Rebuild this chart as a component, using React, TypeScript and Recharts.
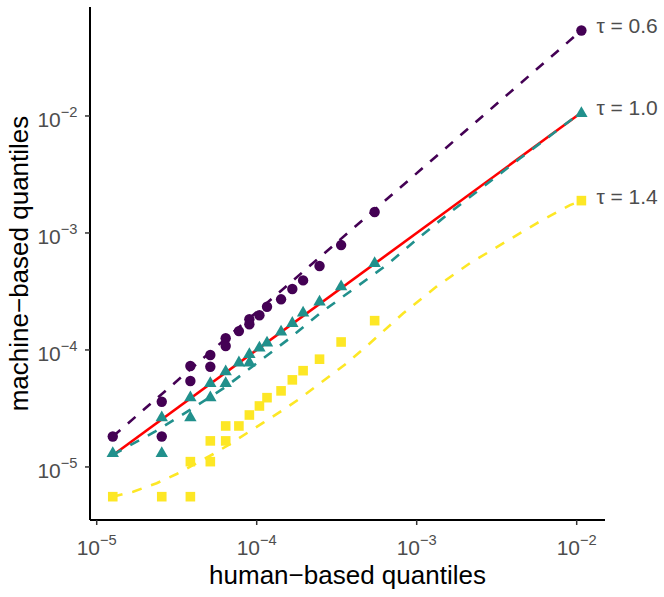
import { Label, Scatter, ScatterChart, XAxis, YAxis } from "recharts";

const FONT = "'Liberation Sans', Arial, Helvetica, sans-serif";
const PURPLE = "#440154";
const TEAL = "#21908C";
const YELLOW = "#FDE725";
const TEXT_GREY = "#4D4D4D";

// axis ticks (powers of ten)
const xTicks = [1e-5, 1e-4, 1e-3, 1e-2];
const yTicks = [1e-5, 1e-4, 1e-3, 1e-2];

// tau = 0.6 (circles)
const tau06X = [
  1.26e-5, 2.55e-5, 2.55e-5, 3.85e-5, 3.85e-5, 5.13e-5, 5.13e-5, 6.4e-5, 6.4e-5, 7.74e-5, 9.0e-5,
  9.0e-5, 1.04e-4, 1.16e-4, 1.42e-4, 1.67e-4, 1.95e-4, 2.47e-4, 3.37e-4, 5.46e-4, 1.07e-2,
];
const tau06Y = [
  1.82e-5, 3.61e-5, 1.82e-5, 7.29e-5, 5.43e-5, 9.05e-5, 7.19e-5, 1.26e-4, 1.08e-4, 1.45e-4, 1.83e-4,
  1.66e-4, 1.98e-4, 2.34e-4, 2.71e-4, 3.32e-4, 3.93e-4, 5.22e-4, 7.88e-4, 1.51e-3, 5.38e-2,
];

// tau = 1.0 (triangles)
const tau10X = [
  1.26e-5, 2.55e-5, 2.55e-5, 3.85e-5, 3.85e-5, 5.13e-5, 5.13e-5, 6.4e-5, 6.4e-5, 7.74e-5, 9.0e-5,
  9.0e-5, 1.04e-4, 1.16e-4, 1.42e-4, 1.67e-4, 1.95e-4, 2.47e-4, 3.37e-4, 5.46e-4, 1.07e-2,
];
const tau10Y = [
  1.35e-5, 2.73e-5, 1.35e-5, 4.05e-5, 2.73e-5, 5.36e-5, 4.05e-5, 6.75e-5, 5.36e-5, 8.05e-5, 9.48e-5,
  8.05e-5, 1.08e-4, 1.19e-4, 1.48e-4, 1.75e-4, 2.15e-4, 2.67e-4, 3.6e-4, 5.7e-4, 1.09e-2,
];

// tau = 1.4 (squares)
const tau14X = [
  1.26e-5, 2.55e-5, 3.85e-5, 3.85e-5, 5.13e-5, 5.13e-5, 6.4e-5, 6.4e-5, 7.74e-5, 9.0e-5, 1.04e-4,
  1.16e-4, 1.42e-4, 1.67e-4, 1.95e-4, 2.47e-4, 3.37e-4, 5.46e-4, 1.07e-2,
];
const tau14Y = [
  5.57e-6, 5.57e-6, 5.57e-6, 1.11e-5, 1.11e-5, 1.67e-5, 1.67e-5, 2.24e-5, 2.24e-5, 2.78e-5, 3.32e-5,
  3.91e-5, 4.47e-5, 5.55e-5, 6.65e-5, 8.34e-5, 1.17e-4, 1.78e-4, 1.89e-3,
];

// dashed model curves
const fit06X = [1.26e-5, 5.46e-4, 1.07e-2];
const fit06Y = [1.82e-5, 1.58e-3, 5.38e-2];

const fit10X = [
  1.26e-5, 2.31e-5, 3.83e-5, 6.34e-5, 1.0e-4, 1.61e-4, 2.49e-4, 6.49e-4, 1.05e-3, 1.69e-3, 2.74e-3,
  4.43e-3, 7.15e-3, 1.07e-2,
];
const fit10Y = [
  1.27e-5, 2.0e-5, 3.07e-5, 4.8e-5, 7.69e-5, 1.26e-4, 2.06e-4, 5.32e-4, 9.3e-4, 1.57e-3, 2.62e-3,
  4.35e-3, 7.11e-3, 1.08e-2,
];

const fit14X = [
  1.26e-5, 1.69e-5, 2.37e-5, 3.16e-5, 4.02e-5, 5.36e-5, 6.81e-5, 8.66e-5, 1.1e-4, 1.43e-4, 1.87e-4,
  2.49e-4, 3.65e-4, 5.1e-4, 8.24e-4, 1.33e-3, 2.15e-3, 3.48e-3, 5.62e-3, 9.08e-3, 1.07e-2,
];
const fit14Y = [
  5.57e-6, 6.15e-6, 7.26e-6, 8.71e-6, 1.04e-5, 1.29e-5, 1.57e-5, 1.94e-5, 2.39e-5, 3.01e-5, 3.86e-5,
  5.19e-5, 7.69e-5, 1.14e-4, 2.06e-4, 3.48e-4, 5.51e-4, 8.17e-4, 1.21e-3, 1.73e-3, 1.89e-3,
];

// identity reference line
const identityX = [1.26e-5, 1.04e-2];
const identityY = [1.26e-5, 1.04e-2];

const tauLabels = ["τ = 0.6", "τ = 1.0", "τ = 1.4"];

const toPoints = (xs: number[], ys: number[]) => xs.map((x, i) => ({ x, y: ys[i] }));

const labelPoints = [
  { x: tau06X[tau06X.length - 1], y: tau06Y[tau06Y.length - 1], text: tauLabels[0] },
  { x: tau10X[tau10X.length - 1], y: tau10Y[tau10Y.length - 1], text: tauLabels[1] },
  { x: tau14X[tau14X.length - 1], y: tau14Y[tau14Y.length - 1], text: tauLabels[2] },
];

const expOf = (v: number) => Math.round(Math.log10(v));

function XTick(props: any) {
  const { x, y, payload } = props;
  const e = expOf(payload.value);
  return (
    <text x={x} y={y + 30} textAnchor="middle" fill={TEXT_GREY} fontSize={21} fontFamily={FONT}>
      10
      <tspan dy={-10} fontSize={14.7}>{`\u2212${-e}`}</tspan>
    </text>
  );
}

function YTick(props: any) {
  const { x, y, payload } = props;
  const e = expOf(payload.value);
  return (
    <text x={x - 7.5} y={y + 11} textAnchor="end" fill={TEXT_GREY} fontSize={21} fontFamily={FONT}>
      10
      <tspan dy={-9.5} fontSize={14.7}>{`\u2212${-e}`}</tspan>
    </text>
  );
}

const Circle = (p: any) => <circle cx={p.cx} cy={p.cy} r={5.2} fill={PURPLE} />;
const Triangle = (p: any) => {
  const w = 6.2;
  const h = 5.4;
  return (
    <polygon
      points={`${p.cx},${p.cy - h} ${p.cx - w},${p.cy + h} ${p.cx + w},${p.cy + h}`}
      fill={TEAL}
    />
  );
};
const Square = (p: any) => (
  <rect x={p.cx - 4.8} y={p.cy - 4.8} width={9.6} height={9.6} fill={YELLOW} />
);
const Nothing = () => <g />;
const TauText = (p: any) => (
  <text x={p.cx + 15} y={p.cy + 3} fill={TEXT_GREY} fontSize={21} fontFamily={FONT}>
    {p.payload.text}
  </text>
);

const dash = "10 10";

export default function App() {
  return (
    <>
      <style>{`body{margin:0;background:#fff}`}</style>
      <ScatterChart width={664} height={597} margin={{ top: 7, right: 59, bottom: 0, left: 0 }}>
        <XAxis
          dataKey="x"
          type="number"
          scale="log"
          domain={[9.08e-6, 1.503e-2]}
          ticks={xTicks}
          height={77}
          tickSize={5}
          tickMargin={0}
          tick={<XTick />}
          axisLine={{ stroke: "#000", strokeWidth: 2 }}
          tickLine={{ stroke: "#333", strokeWidth: 1.5 }}
        >
          <Label
            content={(lp: any) => {
              const vb = lp.viewBox || { x: 90, y: 520, width: 515, height: 77 };
              return (
                <text
                  x={vb.x + vb.width / 2}
                  y={vb.y + 64}
                  textAnchor="middle"
                  fill="#000"
                  fontSize={26}
                  fontFamily={FONT}
                >
                  human−based quantiles
                </text>
              );
            }}
          />
        </XAxis>
        <YAxis
          dataKey="y"
          type="number"
          scale="log"
          domain={[3.52e-6, 8.54e-2]}
          ticks={yTicks}
          width={90}
          tickSize={5}
          tickMargin={0}
          tick={<YTick />}
          axisLine={{ stroke: "#000", strokeWidth: 2 }}
          tickLine={{ stroke: "#333", strokeWidth: 1.5 }}
        >
          <Label
            content={(lp: any) => {
              const vb = lp.viewBox || { x: 0, y: 7, width: 90, height: 513 };
              const cx = vb.x + 28;
              const cy = vb.y + vb.height / 2;
              return (
                <text
                  x={cx}
                  y={cy}
                  transform={`rotate(-90, ${cx}, ${cy})`}
                  textAnchor="middle"
                  fill="#000"
                  fontSize={26}
                  fontFamily={FONT}
                >
                  machine−based quantiles
                </text>
              );
            }}
          />
        </YAxis>

        <Scatter
          data={toPoints(identityX, identityY)}
          line={{ stroke: "#FF0000", strokeWidth: 2.6 }}
          shape={Nothing}
          isAnimationActive={false}
        />
        <Scatter
          data={toPoints(fit06X, fit06Y)}
          line={{ stroke: PURPLE, strokeWidth: 2.6, strokeDasharray: dash }}
          shape={Nothing}
          isAnimationActive={false}
        />
        <Scatter
          data={toPoints(fit10X, fit10Y)}
          line={{ stroke: TEAL, strokeWidth: 2.6, strokeDasharray: dash }}
          shape={Nothing}
          isAnimationActive={false}
        />
        <Scatter
          data={toPoints(fit14X, fit14Y)}
          line={{ stroke: YELLOW, strokeWidth: 2.6, strokeDasharray: dash }}
          shape={Nothing}
          isAnimationActive={false}
        />

        <Scatter data={toPoints(tau06X, tau06Y)} shape={Circle} isAnimationActive={false} />
        <Scatter data={toPoints(tau10X, tau10Y)} shape={Triangle} isAnimationActive={false} />
        <Scatter data={toPoints(tau14X, tau14Y)} shape={Square} isAnimationActive={false} />
        <Scatter data={labelPoints} shape={TauText} isAnimationActive={false} />
      </ScatterChart>
    </>
  );
}
